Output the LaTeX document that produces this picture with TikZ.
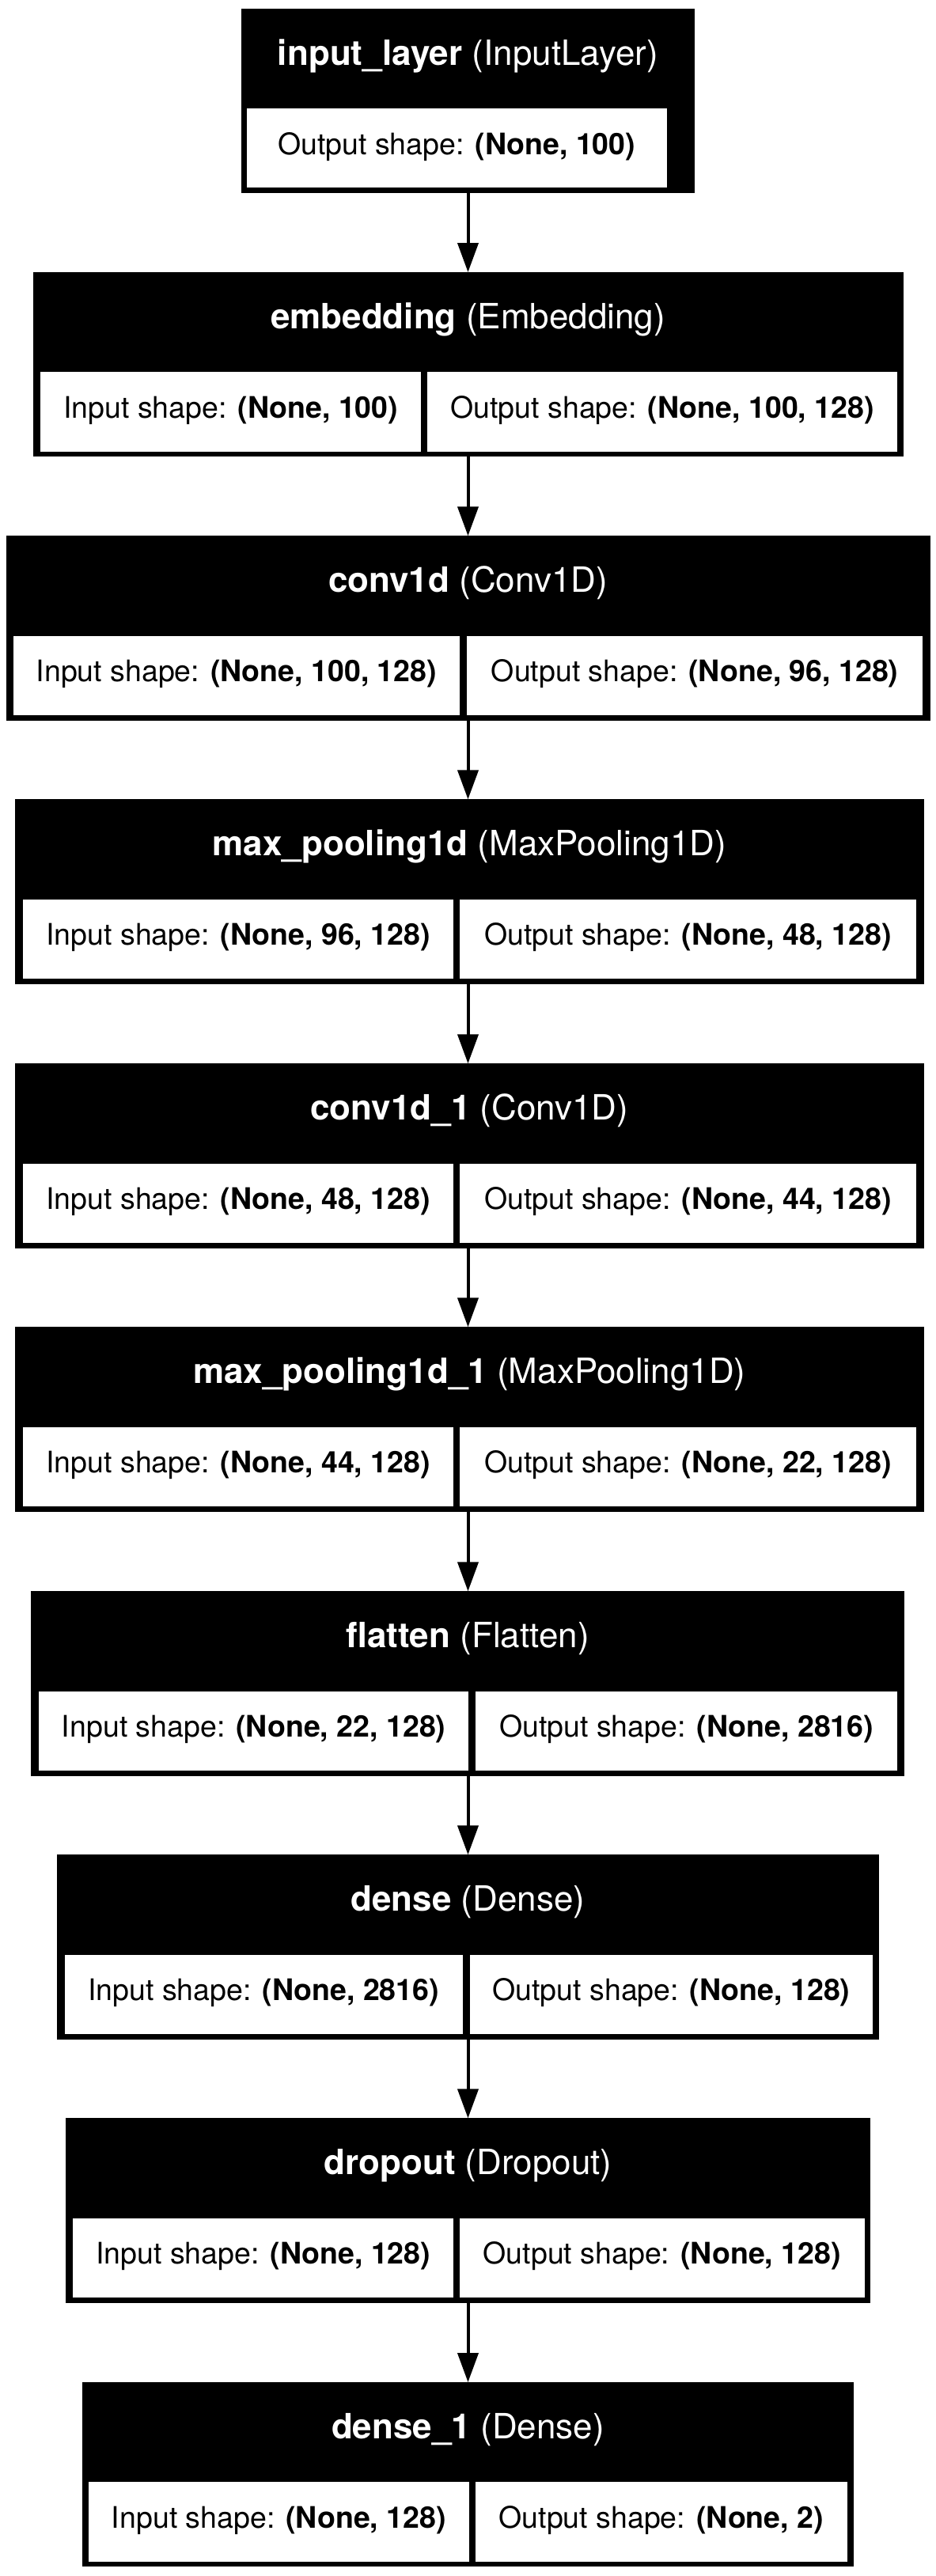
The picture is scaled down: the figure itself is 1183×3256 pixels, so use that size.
\documentclass[tikz,border=0pt]{standalone}
\usepackage{fontspec}
\setmainfont{TeX Gyre Heros}
\usetikzlibrary{fit,arrows.meta}

\tikzset{
  outerbox/.style={fill=black, draw=none, inner sep=0pt, outer sep=0pt},
  cellbox/.style={fill=white, draw=none, inner sep=0pt, outer sep=0pt},
  celltext/.style={inner sep=0pt, outer sep=0pt, anchor=base,
    font=\fontsize{18.75pt}{22pt}\selectfont},
  titletext/.style={text=white, inner sep=0pt, outer sep=0pt, anchor=base,
    font=\fontsize{22pt}{26pt}\selectfont},
  flow/.style={line width=2pt, -{Triangle[length=18.5pt,width=13pt]}}
}

% one layer: name, left, right, top, title
\newcommand\layerbox[5]{%
  \pgfmathsetmacro\lbbot{#4+233.4}%
  \node[outerbox, fit={(#2,#4) (#3,\lbbot)}] (#1) {};
  \pgfmathsetmacro\lbmid{(#2+#3)/2}%
  \pgfmathsetmacro\lbbase{#4+71}%
  \node[titletext] (#1-title) at (\lbmid,\lbbase) {#5};
}
% input/output cells: name, top, in-left, in-right, out-left, out-right, input, output
\newcommand\shapecells[8]{%
  \pgfmathsetmacro\scy{#2+126.3}%
  \pgfmathsetmacro\scb{#2+226.5}%
  \pgfmathsetmacro\scbase{#2+184.5}%
  \pgfmathsetmacro\scl{(#3+#4)/2}%
  \pgfmathsetmacro\scr{(#5+#6)/2}%
  \node[cellbox, fit={(#3,\scy) (#4,\scb)}] (#1-in) {};
  \node[cellbox, fit={(#5,\scy) (#6,\scb)}] (#1-out) {};
  \node[celltext] (#1-intext) at (\scl,\scbase) {Input shape: \textbf{#7}};
  \node[celltext] (#1-outtext) at (\scr,\scbase) {Output shape: \textbf{#8}};
}
% single output cell: name, top, left, right, output
\newcommand\outcell[5]{%
  \pgfmathsetmacro\scy{#2+125.7}%
  \pgfmathsetmacro\scb{#2+226.3}%
  \pgfmathsetmacro\scbase{#2+184}%
  \pgfmathsetmacro\scr{(#3+#4)/2}%
  \node[cellbox, fit={(#3,\scy) (#4,\scb)}] (#1-out) {};
  \node[celltext] (#1-outtext) at (\scr,\scbase) {Output shape: \textbf{#5}};
}

\begin{document}
\begin{tikzpicture}[x=0.5pt, y=-0.5pt]
\useasboundingbox (0,0) rectangle (1183,3256);

\layerbox{inputlayer}{304.5}{878.3}{11}{\textbf{input\_layer} (InputLayer)}
\outcell{inputlayer}{11}{311.6}{842.7}{(None, 100)}

\layerbox{embedding}{41.5}{1141.5}{344}{\textbf{embedding} (Embedding)}
\shapecells{embedding}{344}{51.3}{532}{540.2}{1134}{(None, 100)}{(None, 100, 128)}

\layerbox{conv1d}{7.5}{1175.5}{677.3}{\textbf{conv1d} (Conv1D)}
\shapecells{conv1d}{677.3}{16.6}{581}{590}{1166.4}{(None, 100, 128)}{(None, 96, 128)}

\layerbox{maxpool}{18.9}{1168}{1010.3}{\textbf{max\_pooling1d} (MaxPooling1D)}
\shapecells{maxpool}{1010.3}{28.7}{573.4}{581}{1158}{(None, 96, 128)}{(None, 48, 128)}

\layerbox{conva}{18.9}{1168}{1344.3}{\textbf{conv1d\_1} (Conv1D)}
\shapecells{conva}{1344.3}{28.7}{573.4}{581}{1158}{(None, 48, 128)}{(None, 44, 128)}

\layerbox{maxpoola}{18.9}{1168}{1677.3}{\textbf{max\_pooling1d\_1} (MaxPooling1D)}
\shapecells{maxpoola}{1677.3}{28.7}{573.4}{581}{1158}{(None, 44, 128)}{(None, 22, 128)}

\layerbox{flatten}{39.2}{1143}{2011.3}{\textbf{flatten} (Flatten)}
\shapecells{flatten}{2011.3}{49}{592.3}{601.3}{1134}{(None, 22, 128)}{(None, 2816)}

\layerbox{dense}{72.4}{1110.6}{2344.3}{\textbf{dense} (Dense)}
\shapecells{dense}{2344.3}{81.5}{584.7}{593.8}{1103}{(None, 2816)}{(None, 128)}

\layerbox{dropout}{83}{1100}{2677.3}{\textbf{dropout} (Dropout)}
\shapecells{dropout}{2677.3}{92}{573.4}{581}{1092.5}{(None, 128)}{(None, 128)}

\layerbox{densea}{104}{1079}{3011}{\textbf{dense\_1} (Dense)}
\shapecells{densea}{3011}{111.7}{593}{600.5}{1071}{(None, 128)}{(None, 2)}

% connectors run down the common vertical axis
\coordinate (axis) at (591.5,0);
\foreach \a/\b in {inputlayer/embedding, embedding/conv1d, conv1d/maxpool,
    maxpool/conva, conva/maxpoola, maxpoola/flatten, flatten/dense,
    dense/dropout, dropout/densea}
  \draw[flow] (\a.south -| axis) -- (\b.north -| axis);
\end{tikzpicture}
\end{document}
